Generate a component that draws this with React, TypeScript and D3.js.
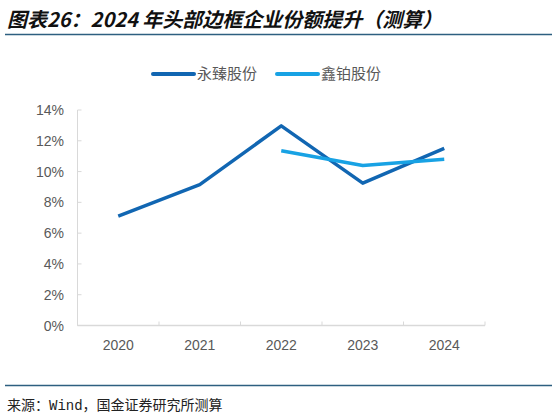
import React, { useEffect, useRef } from 'react';
import * as d3 from 'd3';

const years = ['2020', '2021', '2022', '2023', '2024'];
const yongzhen = [7.1, 9.15, 12.97, 9.25, 11.5];
const xinbo: (number | null)[] = [null, null, 11.35, 10.4, 10.8];
const yTicks = [0, 2, 4, 6, 8, 10, 12, 14];
const seriesNames = ['永臻股份', '鑫铂股份'];
const seriesColors = ['#1166b2', '#18a2e4'];

const W = 559;
const H = 416;

const App: React.FC = () => {
  const ref = useRef<SVGSVGElement>(null);

  useEffect(() => {
    if (!ref.current) return;
    const svg = d3.select(ref.current);
    svg.selectAll('*').remove();

    // title + rules
    svg.append('text')
      .attr('x', 7)
      .attr('y', 27)
      .style('font-family', '"Noto Sans CJK SC", sans-serif')
      .style('font-size', '20px')
      .style('font-weight', 'bold')
      .style('font-style', 'italic')
      .attr('fill', '#111')
      .text('图表26：2024 年头部边框企业份额提升（测算）');

    svg.append('line')
      .attr('x1', 5).attr('x2', 552).attr('y1', 34.5).attr('y2', 34.5)
      .attr('stroke', '#2d5f80').attr('stroke-width', 1.5);

    svg.append('line')
      .attr('x1', 5).attr('x2', 552).attr('y1', 385.5).attr('y2', 385.5)
      .attr('stroke', '#2d5f80').attr('stroke-width', 1.5);

    svg.append('text')
      .attr('x', 7)
      .attr('y', 410)
      .style('font-family', '"Liberation Mono", "Noto Sans CJK SC", monospace')
      .style('font-size', '14px')
      .attr('fill', '#222')
      .text('来源：Wind，国金证券研究所测算');

    // scales
    const x = d3.scaleBand<string>().domain(years).range([77.5, 485]);
    const y = d3.scaleLinear().domain([0, 14]).range([325.5, 110]);

    const g = svg.append('g');

    // y axis
    g.append('line')
      .attr('x1', 77.5).attr('x2', 77.5).attr('y1', y(14)).attr('y2', y(0))
      .attr('stroke', '#d9d9d9').attr('stroke-width', 1);
    g.selectAll('.ytick')
      .data(yTicks)
      .enter()
      .append('line')
      .attr('x1', 77.5).attr('x2', 81.5)
      .attr('y1', d => y(d)).attr('y2', d => y(d))
      .attr('stroke', '#d9d9d9');
    g.selectAll('.ylab')
      .data(yTicks)
      .enter()
      .append('text')
      .attr('x', 64)
      .attr('y', d => y(d))
      .attr('dy', '0.36em')
      .attr('text-anchor', 'end')
      .style('font-family', 'Arial, "Liberation Sans", sans-serif')
      .style('font-size', '14px')
      .attr('fill', '#595959')
      .text(d => `${d}%`);

    // x axis
    g.append('line')
      .attr('x1', 77.5).attr('x2', 485).attr('y1', y(0)).attr('y2', y(0))
      .attr('stroke', '#d9d9d9').attr('stroke-width', 1.5);
    const bounds = years.map(d => x(d)!).concat([485]);
    g.selectAll('.xtick')
      .data(bounds)
      .enter()
      .append('line')
      .attr('x1', d => d).attr('x2', d => d)
      .attr('y1', y(0)).attr('y2', y(0) - 4)
      .attr('stroke', '#d9d9d9');
    g.selectAll('.xlab')
      .data(years)
      .enter()
      .append('text')
      .attr('x', d => x(d)! + x.bandwidth() / 2)
      .attr('y', 350)
      .attr('text-anchor', 'middle')
      .style('font-family', 'Arial, "Liberation Sans", sans-serif')
      .style('font-size', '14px')
      .attr('fill', '#595959')
      .text(d => d);

    // lines
    const line = d3.line<number | null>()
      .defined(d => d != null)
      .x((_, i) => x(years[i])! + x.bandwidth() / 2)
      .y(d => y(d as number));

    [yongzhen, xinbo].forEach((s, i) => {
      g.append('path')
        .datum(s)
        .attr('d', line)
        .attr('fill', 'none')
        .attr('stroke', seriesColors[i])
        .attr('stroke-width', 3.5)
        .attr('stroke-linejoin', 'round');
    });

    // legend
    const legendX = [153, 277];
    seriesNames.forEach((name, i) => {
      svg.append('line')
        .attr('x1', legendX[i]).attr('x2', legendX[i] + 41)
        .attr('y1', 74).attr('y2', 74)
        .attr('stroke', seriesColors[i])
        .attr('stroke-width', 4)
        .attr('stroke-linecap', 'round');
      svg.append('text')
        .attr('x', legendX[i] + 44)
        .attr('y', 74)
        .attr('dy', '0.36em')
        .style('font-family', '"Noto Sans CJK SC", sans-serif')
        .style('font-size', '15px')
        .attr('fill', '#595959')
        .text(name);
    });
  }, []);

  return (
    <svg
      ref={ref}
      width={W}
      height={H}
      style={{ position: 'fixed', left: 0, top: 0, display: 'block', background: '#fff' }}
    />
  );
};

export default App;
